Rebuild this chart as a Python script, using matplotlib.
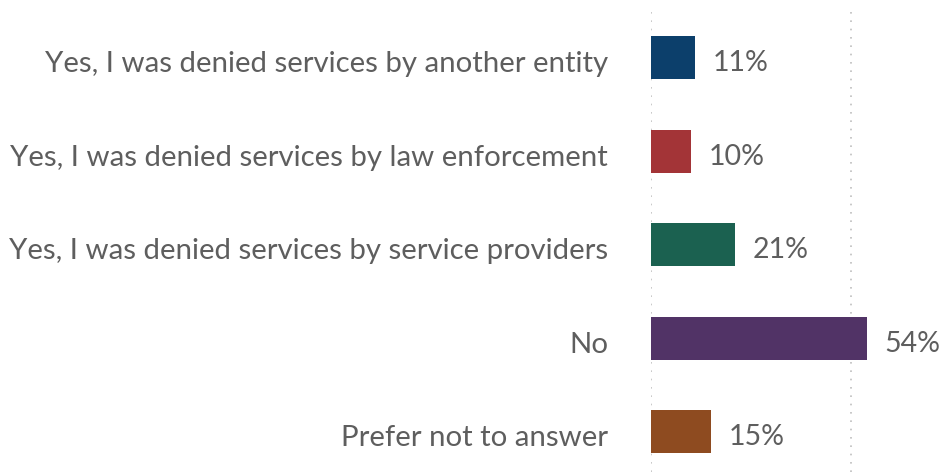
import matplotlib.pyplot as plt
from matplotlib.transforms import ScaledTranslation

categories = [
    "Yes, I was denied services by another entity",
    "Yes, I was denied services by law enforcement",
    "Yes, I was denied services by service providers",
    "No",
    "Prefer not to answer",
]
values = [11, 10, 21, 54, 15]
colors = ["#0C3F6B", "#A33437", "#1B6150", "#513366", "#8E4B20"]
grid_ticks = [0, 50]

TEXT = "#5E5E5E"
plt.rcParams['font.family'] = ['Lato', 'DejaVu Sans']


def plot(output):
    fig = plt.figure(figsize=(9.41, 4.72), dpi=100)
    ax = fig.add_axes([651 / 941, 0.0, 1 - 651 / 941, 460 / 472])

    pos = list(range(len(categories)))
    ax.barh(pos, values, height=0.46, color=colors, zorder=3)

    for p, v in zip(pos, values):
        ax.text(v + 4.4, p + 0.06, f"{v}%", va="center", ha="left",
                fontsize=20.5, color=TEXT)

    ax.set_xlim(0, 72.5)
    ax.set_ylim(4.43, -0.49)
    ax.set_xticks(grid_ticks)
    ax.xaxis.grid(True, linestyle=(0, (1, 4)), color="#BFBFBF", lw=1.2)
    ax.tick_params(axis="x", length=0, labelbottom=False)

    ax.set_yticks(pos)
    ax.set_yticklabels(categories, fontsize=21.2, color=TEXT)
    ax.tick_params(axis="y", length=0, pad=31)
    # nudge the category labels down a few pixels
    shift = ScaledTranslation(0, -0.04, fig.dpi_scale_trans)
    for lbl in ax.get_yticklabels():
        lbl.set_transform(lbl.get_transform() + shift)

    for s in ax.spines.values():
        s.set_visible(False)

    fig.savefig(output, dpi=100)


if __name__ == '__main__':
    plot("out.png")
